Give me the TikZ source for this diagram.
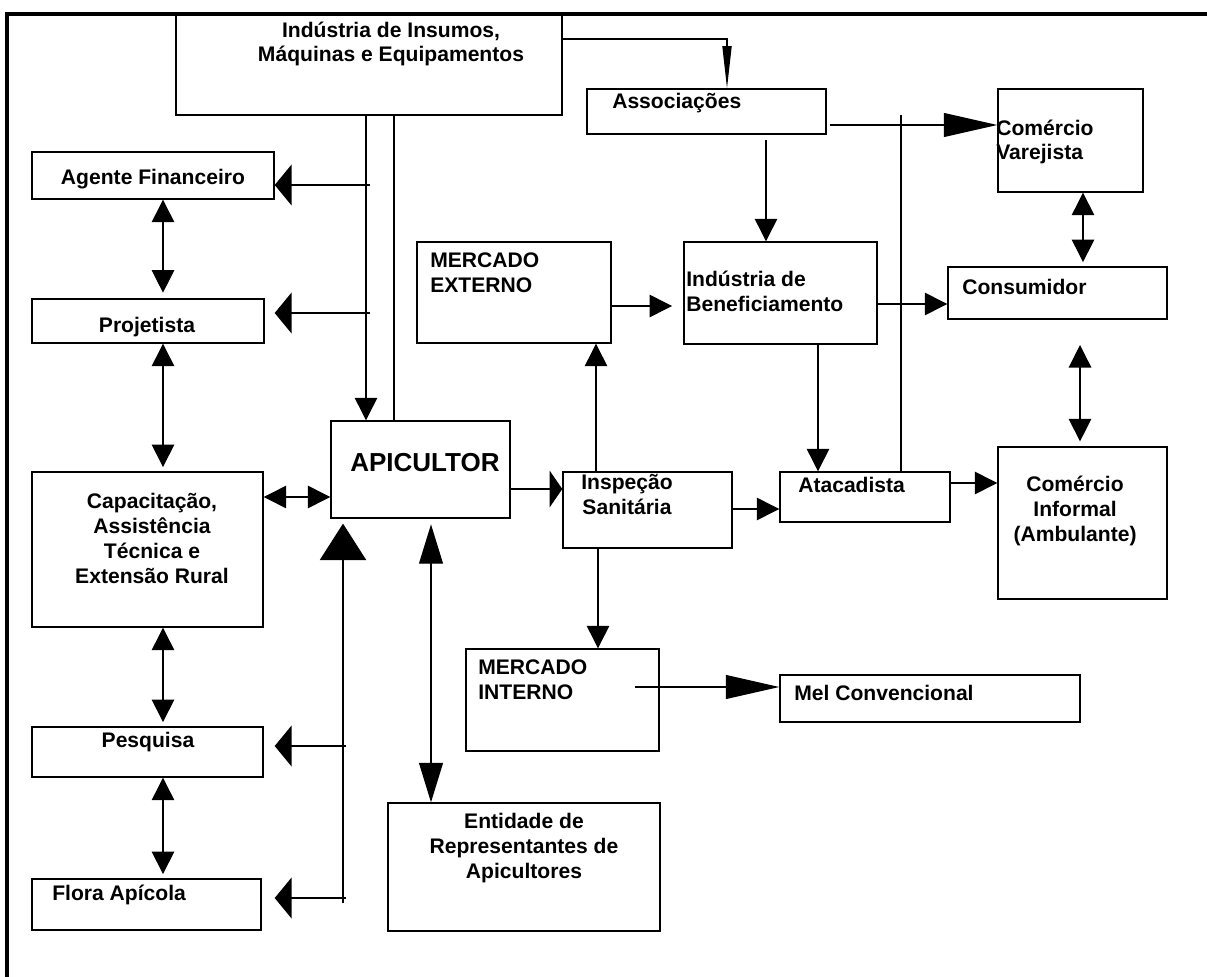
\documentclass[tikz,border=0pt]{standalone}
\usepackage{fontspec}
\setmainfont{Liberation Sans}
\usetikzlibrary{fit, arrows.meta}
\tikzstyle{box} = [draw=black, line width=1pt, rectangle, inner sep=0pt]
\tikzstyle{txt} = [inner sep=0pt, font=\fontsize{15pt}{17.7pt}\selectfont\bfseries]
\tikzstyle{conn} = [draw=black, line width=0.9pt]
\tikzstyle{onehead} = [conn, -{Triangle[length=16pt, width=16pt]}]
\tikzstyle{twoheads} = [conn, {Triangle[length=16pt, width=16pt]}-{Triangle[length=16pt, width=16pt]}]
\tikzstyle{widehead} = [conn, -{Triangle[length=12pt, width=29pt]}]
\tikzstyle{longhead} = [conn, -{Triangle[length=38pt, width=17pt]}]
\tikzstyle{thinhead} = [conn, -{Triangle[length=30pt, width=6.5pt]}]
\tikzstyle{stubhead} = [conn, -{Triangle[length=9pt, width=26pt]}]
\tikzstyle{bighead} = [conn, -{Triangle[length=26pt, width=33pt]}]
\tikzstyle{tallheads} = [conn, {Triangle[length=28pt, width=17pt]}-{Triangle[length=28pt, width=17pt]}]

\begin{document}
\begin{tikzpicture}[x=0.025cm, y=-0.025cm]
	\useasboundingbox (0,0) rectangle (1207,977);
	\draw [line width=2.2pt] (1207,14) -- (7,14) -- (7,977);

	% boxes
	\node (Insumos) [box, fit={(176,14) (562,115)}] {};
	\node (Assoc) [box, fit={(587,89) (826,134)}] {};
	\node (Varejista) [box, fit={(998,89) (1143,192)}] {};
	\node (Agente) [box, fit={(32,152) (274,199)}] {};
	\node (Projetista) [box, fit={(32,299) (264,343)}] {};
	\node (MercExt) [box, fit={(417,242) (611,343)}] {};
	\node (Benef) [box, fit={(684,242) (877,344)}] {};
	\node (Consumidor) [box, fit={(948,267) (1167,319)}] {};
	\node (Apicultor) [box, fit={(331,421) (510,518)}] {};
	\node (Capacitacao) [box, fit={(32,472) (263,627)}] {};
	\node (Inspecao) [box, fit={(563,472) (732,548)}] {};
	\node (Atacadista) [box, fit={(780,472) (950,522)}] {};
	\node (Informal) [box, fit={(998,447) (1167,599)}] {};
	\node (MercInt) [box, fit={(466,649) (659,751)}] {};
	\node (Mel) [box, fit={(780,675) (1080,722)}] {};
	\node (Entidade) [box, fit={(388,803) (660,931)}] {};
	\node (Pesquisa) [box, fit={(32,727) (263,777)}] {};
	\node (Flora) [box, fit={(32,879) (261,930)}] {};

	% texts (multi-line ones sit on their last line)
	\node (InsumosText) [txt, anchor=base, align=center] at (391,62) {Indústria de Insumos,\\Máquinas e Equipamentos};
	\node (AssocText) [txt, anchor=base west] at (612,109) {Associações};
	\node (VarejistaText) [txt, anchor=base west, align=left] at (996,160) {Comércio\\Varejista};
	\node (AgenteText) [txt, anchor=base] at (153,185) {Agente Financeiro};
	\node (ProjText) [txt, anchor=base] at (147,332) {Projetista};
	\node (MercExtText) [txt, anchor=base west, align=left] at (430,292) {MERCADO\\EXTERNO};
	\node (BenefText) [txt, anchor=base west, align=left] at (686,311) {Indústria de\\Beneficiamento};
	\node (ConsText) [txt, anchor=base west] at (962,294) {Consumidor};
	\node (ApicText) [txt, anchor=base west, font=\fontsize{18.5pt}{22pt}\selectfont\bfseries] at (350,471) {APICULTOR};
	\node (CapText) [txt, anchor=base, align=center] at (152,583) {Capacitação,\\Assistência\\Técnica e\\Extensão Rural};
	\node (InspText) [txt, anchor=base, align=center] at (627,514) {Inspeção\\Sanitária};
	\node (AtacText) [txt, anchor=base west] at (798,492) {Atacadista};
	\node (InformalText) [txt, anchor=base, align=center] at (1075,541) {Comércio\\Informal\\(Ambulante)};
	\node (MercIntText) [txt, anchor=base west, align=left] at (478,699) {MERCADO\\INTERNO};
	\node (MelText) [txt, anchor=base west] at (794,700) {Mel Convencional};
	\node (EntText) [txt, anchor=base, align=center] at (524,878) {Entidade de\\Representantes de\\Apicultores};
	\node (PesqText) [txt, anchor=base] at (148,747) {Pesquisa};
	\node (FloraText) [txt, anchor=base west] at (52,900) {Flora Apícola};

	% from the suppliers
	\coordinate (AssocDrop) at (727,39);
	\draw [thinhead] (Insumos.east |- AssocDrop) -- (AssocDrop) -- (AssocDrop |- Assoc.north);
	\coordinate (BusDown) at (366,300);
	\coordinate (BusUp) at (394,300);
	\draw [onehead] (Insumos.south -| BusDown) -- (Apicultor.north -| BusDown);
	\draw [conn] (Insumos.south -| BusUp) -- (Apicultor.north -| BusUp);
	\coordinate (AgenteTap) at (370,185);
	\draw [widehead] (AgenteTap) -- (AgenteTap -| Agente.east);
	\coordinate (ProjTap) at (370,313);
	\draw [widehead] (ProjTap) -- (ProjTap -| Agente.east);

	% support column
	\coordinate (LeftLink) at (163,400);
	\draw [twoheads, shorten >=4pt] (Agente.south -| LeftLink) -- (Projetista.north -| LeftLink);
	\draw [twoheads, shorten >=3pt] (Projetista.south -| LeftLink) -- (Capacitacao.north -| LeftLink);
	\draw [twoheads, shorten >=3pt] (Capacitacao.south -| LeftLink) -- (Pesquisa.north -| LeftLink);
	\draw [twoheads, shorten >=3pt] (Pesquisa.south -| LeftLink) -- (Flora.north -| LeftLink);
	\coordinate (CapLink) at (300,497);
	\draw [twoheads] (CapLink -| Capacitacao.east) -- (CapLink -| Apicultor.west);
	\coordinate (BusBottom) at (343,903);
	\draw [bighead, shorten >=3.5pt] (BusBottom) -- (BusBottom |- Apicultor.south);
	\coordinate (PesqTap) at (346,746);
	\draw [widehead] (PesqTap) -- (PesqTap -| Agente.east);
	\coordinate (FloraTap) at (346,898);
	\draw [widehead] (FloraTap) -- (FloraTap -| Agente.east);
	\coordinate (RepLink) at (431,660);
	\draw [tallheads, shorten <=4pt] (Apicultor.south -| RepLink) -- (Entidade.north -| RepLink);

	% market side
	\coordinate (InspLink) at (450,489);
	\draw [stubhead] (InspLink -| Apicultor.east) -- (InspLink -| Inspecao.west);
	\coordinate (ExtLink) at (596,400);
	\draw [onehead] (Inspecao.north -| ExtLink) -- (MercExt.south -| ExtLink);
	\coordinate (IntLink) at (598,600);
	\draw [onehead] (Inspecao.south -| IntLink) -- (MercInt.north -| IntLink);
	\coordinate (AtacLink) at (750,509);
	\draw [onehead] (AtacLink -| Inspecao.east) -- (AtacLink -| Atacadista.west);
	\coordinate (BenefLink) at (640,306);
	\draw [onehead, shorten >=8pt] (BenefLink -| MercExt.east) -- (BenefLink -| Benef.west);
	\coordinate (AssocDown) at (766,200);
	\draw [onehead, shorten <=4pt] (Assoc.south -| AssocDown) -- (Benef.north -| AssocDown);
	\coordinate (VarLink) at (900,125);
	\draw [longhead, shorten <=2pt] (VarLink -| Assoc.east) -- (VarLink -| Varejista.west);
	\coordinate (AtacUp) at (901,115);
	\draw [conn] (AtacUp) -- (AtacUp |- Atacadista.north);
	\coordinate (ConsLink) at (910,304);
	\draw [onehead] (ConsLink -| Benef.east) -- (ConsLink -| Consumidor.west);
	\coordinate (BenefDown) at (818,400);
	\draw [onehead] (Benef.south -| BenefDown) -- (Atacadista.north -| BenefDown);
	\coordinate (RetailLink) at (1083,230);
	\draw [twoheads, shorten >=3pt] (Varejista.south -| RetailLink) -- (Consumidor.north -| RetailLink);
	\coordinate (InformalLink) at (975,483);
	\draw [onehead] (InformalLink -| Atacadista.east) -- (InformalLink -| Informal.west);
	\coordinate (StreetLink) at (1080,400);
	\draw [twoheads, shorten <=18pt, shorten >=3.5pt] (Consumidor.south -| StreetLink) -- (Informal.north -| StreetLink);
	\coordinate (MelStart) at (635,687);
	\draw [longhead] (MelStart) -- (MelStart -| Mel.west);
\end{tikzpicture}
\end{document}
